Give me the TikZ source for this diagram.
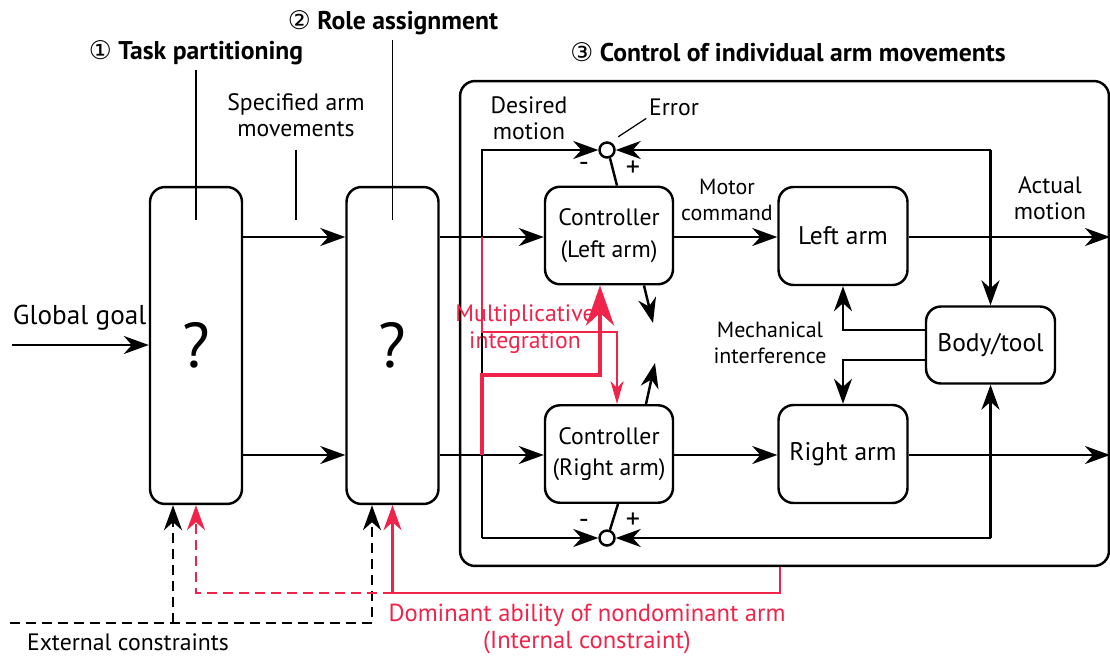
\documentclass[tikz,border=0pt]{standalone}
\usepackage{fontspec}
\setmainfont{PT Sans}
\newfontfamily\circfont{DejaVu Sans}
\usetikzlibrary{arrows.meta}
\definecolor{intred}{RGB}{240,35,75}

\begin{document}
\begin{tikzpicture}[x=0.02cm,y=-0.02cm,line width=1.4pt,
>={Stealth[length=0.5cm,width=0.36cm,inset=0.16cm]},
stagebox/.style={draw,rectangle,rounded corners=0.3cm,minimum width=1.84cm,minimum height=6.34cm,font=\fontsize{36}{38}\selectfont},
ctrlbox/.style={draw,rectangle,rounded corners=0.3cm,minimum width=2.56cm,minimum height=1.95cm,align=center,font=\fontsize{13.5}{18}\selectfont},
armbox/.style={draw,rectangle,rounded corners=0.3cm,minimum width=2.58cm,minimum height=1.96cm,font=\fontsize{14.5}{17}\selectfont},
errnode/.style={draw,circle,inner sep=0pt,minimum size=0.3cm},
txt/.style={align=center,font=\fontsize{13.5}{15}\selectfont,inner sep=1pt},
title/.style={font=\fontsize{14.6}{17}\selectfont\bfseries,inner sep=1pt},
leader/.style={line width=0.7pt},
sign/.style={font=\fontsize{16}{18}\selectfont,inner sep=0pt},
redthin/.style={intred,line width=1.4pt,>={Stealth[length=0.46cm,width=0.26cm,inset=0.14cm]}},
redthick/.style={intred,line width=2.4pt,>={Stealth[length=0.8cm,width=0.56cm,inset=0.25cm]}},
extdash/.style={dash pattern=on 0.2cm off 0.12cm}]

\useasboundingbox (0,0) rectangle (1110,659);

% outer frame
\node[draw,rectangle,rounded corners=0.3cm,minimum width=12.98cm,minimum height=9.7cm] (ctrlsys) at (784.5,323.5) {};

% stages
\node[stagebox] (stage1) at (196,345.5) {?};
\node[stagebox] (stage2) at (392.5,345.5) {?};
\node[ctrlbox] (ctrlL) at (609,235.5) {Controller\\(Left arm)};
\node[ctrlbox] (ctrlR) at (609,454) {Controller\\(Right arm)};
\node[armbox] (leftarm) at (843,236) {Left arm};
\node[armbox] (rightarm) at (843,454) {Right arm};
\node[armbox,minimum height=1.54cm] (body) at (990.5,345) {Body/tool};
\node[errnode] (errL) at (607,150) {};
\node[errnode] (errR) at (607,538) {};

% titles and labels
\node[title] (title1) at (196,53) {{\circfont\mdseries ①} Task partitioning};
\node[title] (title2) at (393,23) {{\circfont\mdseries ②} Role assignment};
\node[title] (title3) at (788,52) {{\circfont\mdseries ③} Control of individual arm movements};
\node[txt] (spec) at (296,115) {Specified arm\\movements};
\node[txt,anchor=south west] (goallbl) at (10,333) {\fontsize{15.5}{17}\selectfont Global goal};
\node[txt] (desired) at (529,118) {Desired\\motion};
\node[txt] (errlbl) at (674,107) {Error};
\node[txt] (motor) at (727,200) {\fontsize{12.5}{15}\selectfont Motor\\\fontsize{12.5}{15}\selectfont command};
\node[txt] (actual) at (1050,198) {Actual\\motion};
\node[txt] (mech) at (770,343) {\fontsize{12.5}{15}\selectfont Mechanical\\\fontsize{12.5}{15}\selectfont interference};
\node[txt,text=intred] (multi) at (525,329) {Multiplicative\\integration};
\node[txt] (extlbl) at (128,642) {External constraints};
\node[txt,text=intred,font=\fontsize{14}{15.5}\selectfont] (intlbl) at (587,629) {Dominant ability of nondominant arm\\(Internal constraint)};
\node[sign] (mL) at (584,167) {-};
\node[sign] (pL) at (633,169) {+};
\node[sign] (mR) at (584,524) {-};
\node[sign] (pR) at (633,521) {+};

\coordinate (goal) at (12,345);
\coordinate (des) at (482,150);
\coordinate (outL) at (1110,237);
\coordinate (outR) at (1110,455);
\coordinate (mixL) at (653,323);
\coordinate (mixR) at (655,363);
\coordinate (mulA) at (482,332);
\coordinate (mulB) at (482,375);
\coordinate (ext) at (10,623);
\coordinate (intc) at (780,593);
\coordinate (lblend) at (296,220);

% leaders
\draw[leader] ([yshift=-0.04cm]title1.south -| stage1) -- (stage1 |- lblend);
\draw[leader] ([yshift=-0.04cm]title2.south -| stage2) -- (stage2 |- lblend);
\draw[leader] ([yshift=-0.2cm]spec.south) -- (lblend);
\draw[leader] ([shift={(0.1cm,0.14cm)}]errL.north east) -- (errlbl.south west);

% signal flow
\draw[->] (goal) -- (goal -| stage1.west);
\draw[->] (stage1.east |- outL) -- (stage2.west |- outL);
\draw[->] (stage1.east |- outR) -- (stage2.west |- outR);
\draw[->] (stage2.east |- outL) -- (ctrlL.west |- outL);
\draw[->] (stage2.east |- outR) -- (ctrlR.west |- outR);
\draw[->] (ctrlL.east |- outL) -- (leftarm.west |- outL);
\draw[->] (ctrlR.east |- outR) -- (rightarm.west |- outR);
\draw[->] (leftarm.east |- outL) -- (outL);
\draw[->] (rightarm.east |- outR) -- (outR);

% desired motion and errors
\draw[->] (des |- errR) -- (des) -- (errL.west);
\draw[->] (des |- errR) -- (errR.west);
\draw[->] (body.north |- errL) -- (errL.east);
\draw[->] (body.north |- errL) -- (body.north);
\draw[->] (body.south |- errR) -- (errR.east);
\draw[->] (body.south |- errR) -- (body.south);
\draw (errL.-70) -- ([xshift=0.16cm]ctrlL.north);
\draw (errR.70) -- ([xshift=0.18cm]ctrlR.south);
\draw[->] ([xshift=0.7cm]ctrlL.south) -- (mixL);
\draw[->] ([xshift=0.74cm]ctrlR.north) -- (mixR);

% mechanical interference
\draw[->] ([yshift=0.3cm]body.west) -| (leftarm.south);
\draw[->] ([yshift=-0.3cm]body.west) -| (rightarm.north);

% multiplicative integration
\draw[redthin,->] (des |- outL) -- (mulA) -| ([xshift=0.16cm]ctrlR.north);
\draw[redthick,->] (des |- outR) -- (mulB) -| ([xshift=-0.18cm]ctrlL.south);

% constraints
\draw[extdash,->] (ext) -| ([xshift=-0.41cm]stage2.south);
\draw[extdash,->] ([xshift=-0.46cm]stage1.south |- ext) -- ([xshift=-0.46cm]stage1.south);
\draw[intred,->] (intc |- ctrlsys.south) |- (stage2.south |- intc) -- (stage2.south);
\draw[intred,extdash,->] (stage2.south |- intc) -| (stage1.south);
\end{tikzpicture}
\end{document}
